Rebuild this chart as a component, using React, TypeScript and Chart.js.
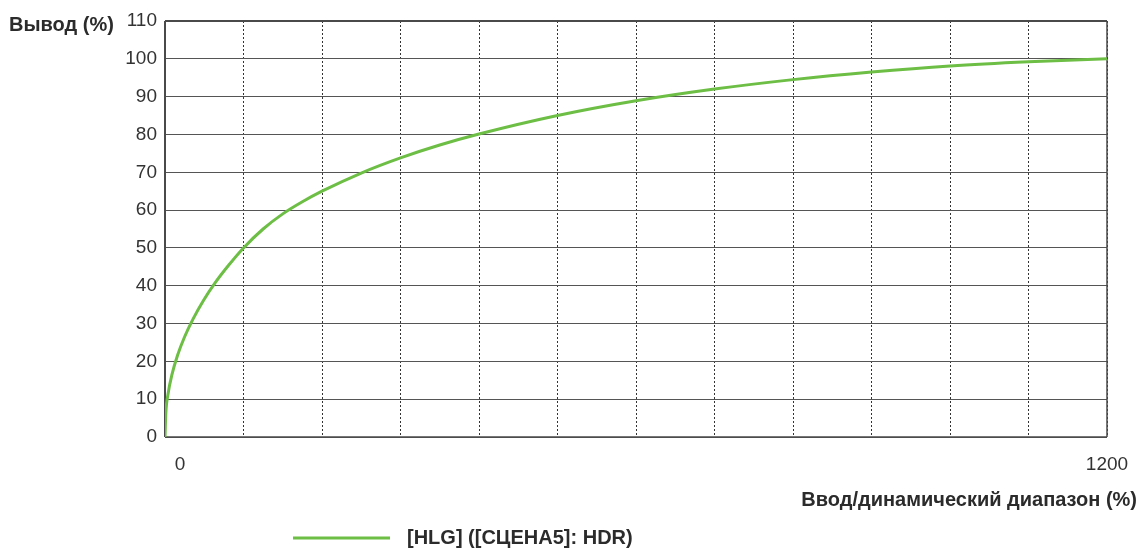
import React, { useEffect, useRef } from 'react';
import { Chart, registerables } from 'chart.js';

Chart.register(...registerables);

// Input / dynamic range (%) and output (%)
const inputPct = [0, 1, 4, 9, 16, 25, 36, 49, 64, 81, 100, 125, 150, 175, 200, 250, 300, 350, 400, 500, 600, 700, 800, 900, 1000, 1100, 1200];
const outputPct = [0, 6.1, 11.5, 16.6, 21.6, 26.5, 31.3, 36.1, 40.8, 45.4, 50, 55.0, 59.0, 62.2, 65.0, 69.8, 73.8, 77.2, 80.1, 85.0, 88.9, 92.0, 94.5, 96.5, 98.1, 99.2, 100];

const xMin = 0;
const xMax = 1200;
const xStep = 100;
const xTickLabels = [0, 1200];
const yMin = 0;
const yMax = 110;
const yStep = 10;

const seriesLabel = '[HLG] ([СЦЕНА5]: HDR)';
const yTitle = 'Вывод (%)';
const xTitle = 'Ввод/динамический диапазон (%)';

const LINE_COLOR = '#6DBE45';
const TEXT_COLOR = '#2b2b2b';
const FONT = '"Liberation Sans", Arial, sans-serif';

export default function App() {
  const canvasRef = useRef<HTMLCanvasElement | null>(null);

  useEffect(() => {
    const canvas = canvasRef.current;
    if (!canvas) return;

    const decorPlugin = {
      id: 'decor',
      beforeDatasetsDraw(chart: any) {
        const { ctx, chartArea } = chart;
        const { left, right, top, bottom } = chartArea;
        ctx.save();
        ctx.strokeStyle = '#4a4a4a';
        ctx.lineWidth = 2;
        ctx.beginPath();
        ctx.moveTo(left, top);
        ctx.lineTo(right, top);
        ctx.stroke();
        ctx.beginPath();
        ctx.moveTo(left, top);
        ctx.lineTo(left, bottom);
        ctx.stroke();
        ctx.lineWidth = 1.5;
        ctx.beginPath();
        ctx.moveTo(left, bottom);
        ctx.lineTo(right, bottom);
        ctx.stroke();
        ctx.beginPath();
        ctx.moveTo(right, top);
        ctx.lineTo(right, bottom);
        ctx.stroke();
        ctx.restore();
      },
      afterDraw(chart: any) {
        const { ctx } = chart;
        const xs = chart.scales.x;
        ctx.save();
        ctx.fillStyle = TEXT_COLOR;
        // y-axis title
        ctx.font = `bold 20px ${FONT}`;
        ctx.textAlign = 'left';
        ctx.textBaseline = 'middle';
        ctx.fillText(yTitle, 9, 25);
        // x tick labels
        ctx.font = `19px ${FONT}`;
        ctx.fillStyle = '#333';
        ctx.textAlign = 'center';
        xTickLabels.forEach((v, i) => {
          const px = xs.getPixelForValue(v) + (i === 0 ? 15 : 0);
          ctx.fillText(String(v), px, 465);
        });
        // x-axis title
        ctx.fillStyle = TEXT_COLOR;
        ctx.font = `bold 20px ${FONT}`;
        ctx.textAlign = 'right';
        ctx.fillText(xTitle, 1137, 500);
        // legend
        ctx.strokeStyle = LINE_COLOR;
        ctx.lineWidth = 3;
        ctx.beginPath();
        ctx.moveTo(293, 538);
        ctx.lineTo(390, 538);
        ctx.stroke();
        ctx.textAlign = 'left';
        ctx.fillText(seriesLabel, 407, 538);
        ctx.restore();
      },
    };

    const chart = new Chart(canvas, {
      type: 'line',
      data: {
        datasets: [
          {
            label: seriesLabel,
            data: inputPct.map((x, i) => ({ x, y: outputPct[i] })),
            borderColor: LINE_COLOR,
            backgroundColor: LINE_COLOR,
            borderWidth: 3,
            pointRadius: 0,
            cubicInterpolationMode: 'monotone',
            fill: false,
          },
        ],
      },
      options: {
        responsive: false,
        animation: false,
        devicePixelRatio: 1,
        layout: { padding: { top: 21, right: 34, left: 0, bottom: 0 } },
        plugins: {
          legend: { display: false },
          tooltip: { enabled: false },
        },
        scales: {
          x: {
            type: 'linear',
            min: xMin,
            max: xMax,
            ticks: { stepSize: xStep, display: false },
            grid: { color: '#333', lineWidth: 1, drawTicks: false },
            border: { display: false, dash: [2, 2] },
            afterFit: (s: any) => {
              s.height = 113;
            },
          },
          y: {
            type: 'linear',
            min: yMin,
            max: yMax,
            ticks: {
              stepSize: yStep,
              padding: 8,
              color: '#333',
              font: { size: 19, family: FONT },
            },
            grid: { color: '#555', lineWidth: 1, drawTicks: false },
            border: { display: false },
            afterFit: (s: any) => {
              s.width = 165;
            },
          },
        },
      },
      plugins: [decorPlugin],
    } as any);

    return () => chart.destroy();
  }, []);

  return (
    <div style={{ position: 'absolute', left: 0, top: 0, width: 1141, height: 550, background: '#fff' }}>
      <canvas ref={canvasRef} width={1141} height={550} style={{ display: 'block' }} />
    </div>
  );
}
